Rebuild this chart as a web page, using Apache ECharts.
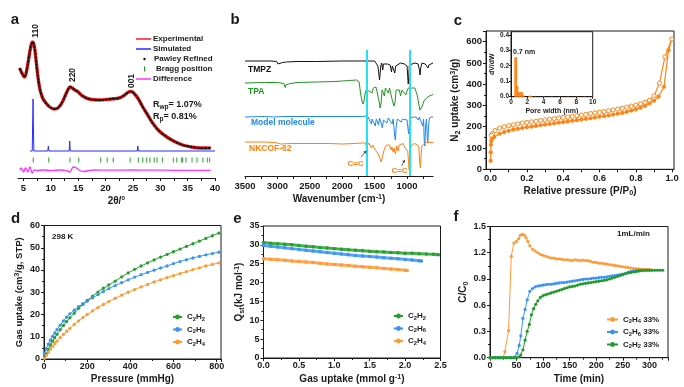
<!DOCTYPE html>
<html><head><meta charset="utf-8">
<script src="https://cdn.jsdelivr.net/npm/echarts@6/dist/echarts.min.js"></script>
<style>html,body{margin:0;padding:0;background:#fff}#c{width:684px;height:387px}</style>
</head><body><div id="c"></div>
<script>
// ---------- Panel a : PXRD ----------
const xrdTicks = [5,10,15,20,25,30,35,40];
const xrdTickMarks = [5,7.5,10,12.5,15,17.5,20,22.5,25,27.5,30,32.5,35,37.5,40];
const xrdExperimental = [[4.3,110],[4.7,105],[5.2,101],[5.6,108],[6.0,121],[6.4,133],[6.7,136],[7.0,131],[7.3,118],[7.6,103],[8.0,89],[8.5,80],[9.1,75],[9.8,71],[10.6,69],[11.3,70],[12.0,75],[12.6,82],[13.1,88],[13.5,91],[13.9,90],[14.4,88],[15.0,86],[15.8,82],[17.0,79],[18.8,78],[21.0,79],[22.5,80],[23.5,83],[24.2,86],[24.7,86.5],[25.3,84],[26.0,79],[26.8,71],[27.7,63],[28.6,55],[29.8,47],[31.2,41],[32.6,36.5],[34.1,33],[35.7,31],[37.4,30],[39.2,30]];
const xrdPawley = xrdExperimental;
const xrdSimulated = [[6.2,27],[6.6,27],[6.68,55],[6.75,79],[6.82,50],[6.9,27],[9.45,27],[9.55,32],[9.65,27],[13.35,27],[13.45,37],[13.55,27],[19.9,27],[20.0,28],[20.1,27],[25.8,27],[25.9,32],[26.0,27],[26.7,27],[26.8,29],[26.9,27],[29.2,27],[29.3,28],[29.4,27],[40,27]];
const braggPositions = [6.8,9.6,13.5,15.1,19.1,20.3,21.4,24.5,26.0,26.8,27.5,28.1,28.9,29.4,30.4,32.4,33.0,33.9,34.1,34.7,35.8,36.7,37.8,38.6,39.0];
const xrdDifference = [[4.3,8],[4.6,10],[5.0,6],[5.4,10],[5.8,6],[6.2,11],[6.6,5],[7.0,8],[7.5,7.5],[8.5,8],[10,7.5],[12,8],[13.0,7],[13.5,6],[14.1,11],[14.7,10],[15.3,7.5],[16.0,6.5],[17,7.5],[18,8],[20,7.8],[22,7.8],[25,8],[28,7.8],[31,7.8],[34,7.6],[37,7.7],[39.2,7.6]];

// ---------- Panel b : FTIR ----------
const ftirTicks = [1000,1500,2000,2500,3000,3500];
const ftirTickMarks = [750,1000,1250,1500,1750,2000,2250,2500,2750,3000,3250,3500];
const ftirMarkers = [1620, 960];
const ftirTMPZ = [[3500,115],[3100,115],[3010,114.5],[2990,112],[2975,114],[2920,113.5],[2860,114],[2700,114.5],[2400,114.5],[2000,115],[1700,115],[1500,115],[1470,114],[1450,110],[1435,102],[1425,96],[1415,98],[1405,110],[1390,113],[1375,106],[1365,112],[1340,113],[1300,112],[1260,111],[1240,104],[1228,110],[1205,106],[1190,103],[1175,110],[1150,112],[1100,113],[1040,112],[1000,110],[990,100],[982,92],[975,98],[965,111],[940,113],[880,113],[830,112],[810,106],[800,101],[790,108],[770,113],[720,112],[690,112],[675,108],[665,111],[640,113],[600,113]];
const ftirTPA = [[3500,93],[3200,93.5],[3000,93.5],[2900,92.5],[2880,88.5],[2870,91],[2830,92],[2700,93.5],[2400,94],[2100,94.5],[1900,95.5],[1780,96],[1740,94],[1720,84],[1700,76],[1680,72],[1665,75],[1650,82],[1630,86],[1610,87.5],[1590,85],[1570,87],[1540,83],[1520,88],[1500,87],[1480,89],[1465,85],[1450,80],[1430,74],[1415,68],[1400,73],[1385,86],[1370,88],[1350,80],[1335,88],[1310,87],[1290,83],[1270,88],[1250,86],[1225,75],[1200,70],[1185,74],[1170,86],[1150,88],[1120,86],[1100,80],[1080,86],[1050,87],[1020,81],[1000,85],[980,88],[950,86],[930,88],[900,87],[880,88],[860,86],[840,80],[820,72],[800,66],[780,64],[765,70],[740,75],[700,78],[660,80],[620,81],[600,81.5]];
const ftirModel = [[3500,59],[3200,59.5],[3060,59],[3045,57.5],[3030,59],[2900,59.5],[2500,59.5],[2000,59.5],[1700,59.5],[1630,60],[1615,56],[1600,59],[1570,58],[1550,52],[1540,57],[1520,58],[1490,50],[1475,57],[1460,55],[1440,51],[1425,58],[1400,53],[1380,48],[1365,56],[1340,58],[1310,53],[1290,58],[1260,57],[1230,52],[1215,57],[1190,40],[1180,36],[1170,48],[1150,57],[1120,58],[1090,54],[1070,57],[1040,58],[1000,56],[985,47],[975,42],[965,52],[945,58],[900,59],[860,59],[830,56],[810,59],[780,59],[760,50],[745,57],[735,35],[725,30],[715,50],[700,57],[690,40],[680,33],[670,48],[655,58],[620,59],[600,59]];
const ftirCOF = [[3500,34],[3200,34],[3060,33.5],[3000,33],[2950,32],[2930,33],[2800,32.5],[2500,32.5],[2200,32.5],[2000,32],[1800,32.5],[1700,33],[1640,33],[1625,28],[1610,30.5],[1590,33],[1570,31.5],[1550,28],[1530,31],[1510,30],[1490,26],[1470,27],[1445,22],[1420,18],[1400,14],[1385,16],[1370,22],[1350,27],[1320,31],[1290,33],[1270,31],[1250,26],[1235,29],[1215,24],[1200,28],[1180,22],[1160,30],[1140,25],[1120,31],[1100,30],[1060,32.5],[1040,29],[1010,31],[990,25],[975,12],[968,6],[960,14],[945,28],[920,31.5],[880,32.5],[850,32],[820,30],[805,14],[795,8],[785,20],[770,30],[740,32.5],[700,33.5],[650,33.5],[600,33.5]];

// ---------- Panel c : N2 isotherm ----------
const isoTicks = [0,0.2,0.4,0.6,0.8,1.0];
const isoTickMarks = [0,0.1,0.2,0.3,0.4,0.5,0.6,0.7,0.8,0.9,1.0];
const isoAdsorption = [[0.0005,40],[0.001,80],[0.002,115],[0.004,133],[0.008,143],[0.02,152],[0.05,167],[0.075,175],[0.1,181],[0.125,186],[0.15,190],[0.175,194],[0.2,198],[0.225,201],[0.25,204],[0.275,207],[0.3,210],[0.325,213],[0.35,216],[0.375,219],[0.4,222],[0.425,225],[0.45,228],[0.475,231],[0.5,234],[0.525,237],[0.55,240],[0.575,243],[0.6,247],[0.625,250],[0.65,253],[0.675,257],[0.7,261],[0.725,265],[0.75,270],[0.775,276],[0.8,282],[0.825,289],[0.85,298],[0.875,310],[0.9,322],[0.925,342],[0.955,388],[0.98,560],[0.998,612]];
const isoDesorption = [[0.998,612],[0.96,528],[0.93,405],[0.9,345],[0.875,325],[0.85,315],[0.825,308],[0.8,302],[0.775,297],[0.75,292],[0.725,287],[0.7,283],[0.675,279],[0.65,275],[0.625,271],[0.6,268],[0.575,265],[0.55,262],[0.525,258],[0.5,255],[0.475,252],[0.45,249],[0.425,246],[0.4,244],[0.375,241],[0.35,238],[0.325,235],[0.3,232],[0.275,229],[0.25,226],[0.225,223],[0.2,220],[0.175,217],[0.15,213],[0.125,209],[0.1,205],[0.075,200],[0.05,194],[0.025,182],[0.01,168],[0.005,160]];
const poreWidth = [0.5,0.65,0.8,0.95,1.1,1.25,1.4,1.55,2.2,2.35,2.5,3,4,5,6,7,8,9,10];
const poreDvdw = [0.255,0.255,0.07,0.03,0.03,0.03,0.028,0.01,0.005,0.007,0.005,0.002,0.002,0.002,0.002,0.002,0.002,0.002,0.002];

// ---------- Panel d : isotherms 298 K ----------
const uptakeP = [2,10,20,30,40,50,60,75,90,105,120,140,160,180,200,225,250,275,300,330,360,390,420,450,480,510,540,570,600,630,660,690,720,750,780,810];
const uptakeC2H2 = [0.5,2.3,4.4,6.3,8.0,9.6,11.1,13.2,15.1,16.9,18.5,20.6,22.8,24.6,26.3,28.3,30.1,31.8,33.3,35.0,36.9,38.7,40.3,41.8,43.2,44.5,45.8,47.0,48.2,49.4,50.6,51.8,53.0,54.2,55.4,56.6];
const uptakeC2H6 = [2.5,4.6,6.7,8.5,10.2,11.7,13.2,15.2,17.1,18.8,20.3,22.0,23.5,24.8,26.0,27.5,28.9,30.3,31.6,33.0,34.3,35.6,36.8,37.9,38.9,39.9,40.9,41.8,42.9,43.8,44.6,45.4,46.1,46.8,47.4,48.0];
const uptakeC2H4 = [0.3,1.6,3.0,4.4,5.7,6.9,8.0,9.6,11.1,12.5,13.8,15.5,17.1,18.6,20.0,21.6,23.1,24.5,25.8,27.3,28.7,30.0,31.2,32.4,33.5,34.6,35.6,36.6,37.5,38.4,39.3,40.2,41.0,41.8,42.5,43.2];

// ---------- Panel e : Qst ----------
const loadC2H2 = [0,0.1,0.2,0.3,0.4,0.5,0.6,0.7,0.8,0.9,1.0,1.1,1.2,1.3,1.4,1.5,1.6,1.7,1.8,1.9,2.0,2.1,2.2,2.3,2.4,2.47];
const qstC2H2 = [30.6,30.45,30.3,30.15,30.0,29.8,29.65,29.5,29.3,29.15,29.0,28.85,28.7,28.6,28.45,28.3,28.2,28.1,28.0,27.9,27.8,27.75,27.65,27.55,27.5,27.4];
const loadC2H6 = [0,0.1,0.2,0.3,0.4,0.5,0.6,0.7,0.8,0.9,1.0,1.1,1.2,1.3,1.4,1.5,1.6,1.7,1.8,1.9,2.0,2.1,2.2,2.23];
const qstC2H6 = [29.8,29.6,29.4,29.2,29.0,28.8,28.6,28.4,28.2,28.0,27.8,27.6,27.4,27.2,27.05,26.9,26.75,26.6,26.45,26.3,26.15,26.0,25.8,25.7];
const loadC2H4 = [0,0.1,0.2,0.3,0.4,0.5,0.6,0.7,0.8,0.9,1.0,1.1,1.2,1.3,1.4,1.5,1.6,1.7,1.8,1.9,2.0,2.03];
const qstC2H4 = [26.3,26.2,26.05,25.9,25.75,25.6,25.45,25.3,25.1,24.95,24.8,24.65,24.5,24.35,24.2,24.05,23.9,23.75,23.6,23.45,23.3,23.2];

// ---------- Panel f : breakthrough ----------
const btC2H4 = [[0,0],[5,0],[10,0],[15,0],[20,0],[25,0],[28,0.07],[35,0.31],[40,1.16],[45,1.31],[50,1.33],[54,1.36],[57,1.40],[61,1.41],[65,1.40],[68,1.37],[71,1.33],[75,1.28],[80,1.24],[85,1.22],[90,1.20],[95,1.18],[100,1.17],[105,1.16],[110,1.15],[115,1.14],[120,1.14],[125,1.13],[130,1.13],[135,1.125],[140,1.12],[145,1.12],[150,1.115],[155,1.11],[160,1.12],[165,1.115],[170,1.11],[175,1.115],[180,1.11],[185,1.11],[190,1.10],[195,1.09],[200,1.09],[205,1.08],[210,1.08],[215,1.075],[220,1.07],[225,1.065],[230,1.06],[235,1.055],[240,1.05],[245,1.045],[250,1.04],[255,1.035],[260,1.03],[265,1.025],[270,1.02],[275,1.02],[280,1.015],[285,1.01],[290,1.01],[295,1.01],[300,1.01],[305,1.0]];
const btC2H6 = [[0,0],[5,0],[10,0],[15,0],[20,0],[25,0],[30,0],[35,0],[40,0],[45,0],[48,0.01],[51,0.05],[55,0.14],[58,0.25],[62,0.45],[66,0.55],[70,0.66],[75,0.76],[80,0.79],[85,0.81],[90,0.82],[95,0.825],[100,0.83],[105,0.835],[110,0.84],[115,0.84],[120,0.845],[125,0.85],[130,0.855],[135,0.86],[140,0.86],[145,0.865],[150,0.87],[155,0.875],[160,0.88],[165,0.885],[170,0.89],[175,0.895],[180,0.90],[185,0.90],[190,0.905],[195,0.91],[200,0.91],[205,0.915],[210,0.92],[215,0.92],[220,0.925],[225,0.93],[230,0.935],[235,0.94],[240,0.945],[245,0.95],[250,0.955],[255,0.965],[260,0.975],[265,0.985],[270,0.99],[275,0.995],[280,1.0],[285,1.0],[290,1.0],[295,1.0],[300,1.0]];
const btC2H2 = [[0,0],[5,0],[10,0],[15,0],[20,0],[25,0],[30,0],[35,0],[40,0],[45,0],[50,0],[55,0.01],[58,0.03],[62,0.09],[66,0.2],[70,0.3],[74,0.38],[78,0.49],[82,0.56],[86,0.61],[90,0.65],[95,0.69],[100,0.71],[105,0.72],[110,0.73],[115,0.74],[120,0.75],[125,0.76],[130,0.77],[135,0.78],[140,0.79],[145,0.80],[150,0.81],[155,0.815],[160,0.82],[165,0.83],[170,0.84],[175,0.845],[180,0.85],[185,0.855],[190,0.86],[195,0.865],[200,0.87],[205,0.875],[210,0.88],[215,0.885],[220,0.89],[225,0.90],[230,0.91],[235,0.92],[240,0.93],[245,0.94],[250,0.95],[255,0.96],[260,0.97],[265,0.975],[270,0.98],[275,0.985],[280,0.99],[285,0.995],[290,1.0],[295,1.0],[300,1.0],[305,1.0],[310,1.0],[315,1.0],[320,1.0],[325,1.0]];

// ---------- styling ----------
const FONT = 'Liberation Sans';
const INK = '#1a1a1a';
const GREEN = '#25A02E', BLUE = '#3A93F5', ORANGE = '#FF9A35', ORANGE_C = '#FF8418';
function rich(sz){
  const s = Math.round(sz*0.72*10)/10, pad = Math.round(sz*0.5);
  return {
    s:{fontSize:s, lineHeight:s, padding:[pad,0,0,0], fontWeight:'bold', fontFamily:FONT, color:INK, fill:INK},
    p:{fontSize:s, lineHeight:s, padding:[0,0,pad,0], fontWeight:'bold', fontFamily:FONT, color:INK, fill:INK}
  };
}
function richC(sz,c){ const r = rich(sz); r.s.color=r.s.fill=c; r.p.color=r.p.fill=c; return r; }
function merge(a,b){
  const o = Object.assign({}, a);
  for (const k in b){
    const bv=b[k], av=a[k];
    if (bv && typeof bv==='object' && !Array.isArray(bv) && av && typeof av==='object' && !Array.isArray(av)) o[k]=merge(av,bv);
    else o[k]=bv;
  }
  return o;
}
const baseAxis = {
  type:'value',
  axisLine:{show:true,onZero:false,lineStyle:{color:INK,width:1}},
  axisTick:{show:true,inside:false,length:3,lineStyle:{color:INK,width:1}},
  minorTick:{show:true,splitNumber:2,length:2,lineStyle:{color:INK,width:1}},
  splitLine:{show:false}, minorSplitLine:{show:false},
  axisLabel:{color:INK,fontFamily:FONT,fontWeight:'bold',fontSize:9,margin:4},
  nameLocation:'middle',
  nameTextStyle:{color:INK,fontFamily:FONT,fontWeight:'bold',fontSize:10,lineHeight:13,rich:rich(10)}
};
const fx1 = v => v.toFixed(1);
const plain = v => String(v);
const boxGrid = {show:true, borderColor:INK, borderWidth:1, backgroundColor:'transparent'};

const xAxis = [
  merge(baseAxis,{gridIndex:0,min:4,max:40,minorTick:{show:false},axisLine:{lineStyle:{width:1.2}},axisLabel:{customValues:xrdTicks,formatter:plain,fontSize:9.5,margin:5},axisTick:{customValues:xrdTickMarks},name:'2θ/°',nameGap:17}),
  merge(baseAxis,{gridIndex:1,min:600,max:3500,inverse:true,minorTick:{show:false},axisLine:{lineStyle:{width:1.2}},axisLabel:{customValues:ftirTicks,formatter:plain,fontSize:9.5,margin:5},axisTick:{customValues:ftirTickMarks},name:'Wavenumber (cm{p|-1})',nameGap:17}),
  merge(baseAxis,{gridIndex:2,min:-0.025,max:1.01,minorTick:{show:false},axisLabel:{customValues:isoTicks,formatter:fx1,fontSize:9.5},axisTick:{customValues:isoTickMarks},name:'Relative pressure (P/P{s|0})',nameGap:15}),
  merge(baseAxis,{gridIndex:3,min:0,max:10,interval:2,minorTick:{show:false},axisTick:{length:2},axisLabel:{fontSize:6.5,margin:2},name:'Pore width (nm)',nameGap:8,nameTextStyle:{fontSize:7,lineHeight:9}}),
  merge(baseAxis,{gridIndex:4,min:0,max:820,interval:200,axisLabel:{showMaxLabel:false,formatter:plain,margin:3},name:'Pressure (mmHg)',nameGap:14}),
  merge(baseAxis,{gridIndex:5,min:0,max:2.5,interval:0.5,axisLabel:{formatter:fx1,margin:3},name:'Gas uptake (mmol g{p|-1})',nameGap:15}),
  merge(baseAxis,{gridIndex:6,min:0,max:335,interval:50,axisLabel:{showMaxLabel:false,formatter:plain,margin:3},name:'Time (min)',nameGap:15})
];
const yAxis = [
  merge(baseAxis,{gridIndex:0,min:0,max:150,show:false}),
  merge(baseAxis,{gridIndex:1,min:0,max:150,show:false}),
  merge(baseAxis,{gridIndex:2,min:0,max:650,interval:100,axisLabel:{showMaxLabel:false,fontSize:9.5},name:'N{s|2} uptake (cm{p|3}/g)',nameGap:22}),
  merge(baseAxis,{gridIndex:3,min:0,max:0.42,interval:0.1,minorTick:{show:false},axisTick:{length:2},axisLabel:{formatter:fx1,showMaxLabel:false,fontSize:6.5,margin:2},name:'dV/dW',nameGap:13,nameTextStyle:{fontSize:7,lineHeight:9}}),
  merge(baseAxis,{gridIndex:4,min:0,max:60,interval:10,name:'Gas uptake (cm{p|3}/g, STP)',nameGap:16,nameTextStyle:{fontSize:9.5,rich:rich(9.5)}}),
  merge(baseAxis,{gridIndex:5,min:0,max:35,interval:5,name:'Q{s|st}(kJ mol{p|-1})',nameGap:16}),
  merge(baseAxis,{gridIndex:6,min:0,max:1.5,interval:0.3,axisLabel:{formatter:fx1},name:'C/C{s|0}',nameGap:17})
];

function ln(name, xi, data, color, extra){
  return merge({type:'line', name, xAxisIndex:xi, yAxisIndex:xi, data, showSymbol:false, symbol:'none',
    lineStyle:{color, width:1}, itemStyle:{color}, emphasis:{disabled:true}, z:3}, extra||{});
}
const zipXY = (xs, ys) => xs.map((x,i)=>[x, ys[i]]);
const mk = (color, size) => ({showSymbol:true, symbol:'circle', symbolSize:size, itemStyle:{color}});

const series = [
  // a
  ln('Experimental',0,xrdExperimental,'#FF1A1A',{smooth:0.35,lineStyle:{width:3.4}}),
  ln('Pawley Refined',0,xrdPawley,'#111',{smooth:0.35,lineStyle:{width:1.9,type:[3,0.6]}}),
  ln('Simulated',0,xrdSimulated,'#2B2BFF',{lineStyle:{width:1}}),
  {type:'scatter', name:'Bragg position', xAxisIndex:0, yAxisIndex:0, data:braggPositions.map(v=>[v,18]), symbol:'rect', symbolSize:[1.2,5], itemStyle:{color:'#1E9E1E'}, silent:true},
  ln('Difference',0,xrdDifference,'#FF33FF',{smooth:0.4,lineStyle:{width:1.3}}),
  // b
  ln('TMPZ',1,ftirTMPZ,'#111'),
  ln('TPA',1,ftirTPA,'#1E961E'),
  ln('Model molecule',1,ftirModel,'#1E88F0'),
  ln('NKCOF-62',1,ftirCOF,'#FF7F0E',{markLine:{silent:true,symbol:'none',label:{show:false},lineStyle:{color:'#22E2F2',width:2,type:'solid'},
     data:ftirMarkers.map(v=>[{coord:[v,0]},{coord:[v,126]}])}}),
  // c
  ln('Adsorption',2,isoAdsorption,ORANGE_C,merge(mk(ORANGE_C,4.2),{lineStyle:{width:1.2}})),
  ln('Desorption',2,isoDesorption,ORANGE_C,{showSymbol:true,symbol:'circle',symbolSize:4.2,lineStyle:{width:1.2},itemStyle:{color:'#fff',borderColor:ORANGE_C,borderWidth:1}}),
  {type:'bar', name:'PSD', xAxisIndex:3, yAxisIndex:3, data:zipXY(poreWidth,poreDvdw), barWidth:1.6, itemStyle:{color:ORANGE_C}, silent:true},
  // d
  ln('C2H2',4,zipXY(uptakeP,uptakeC2H2),GREEN,mk(GREEN,3.3)),
  ln('C2H6',4,zipXY(uptakeP,uptakeC2H6),BLUE,mk(BLUE,3.3)),
  ln('C2H4',4,zipXY(uptakeP,uptakeC2H4),ORANGE,mk(ORANGE,3.3)),
  // e
  ln('C2H2',5,zipXY(loadC2H2,qstC2H2),GREEN,merge(mk(GREEN,3.5),{lineStyle:{width:3,opacity:0.85}})),
  ln('C2H6',5,zipXY(loadC2H6,qstC2H6),BLUE,merge(mk(BLUE,3.5),{lineStyle:{width:3,opacity:0.85}})),
  ln('C2H4',5,zipXY(loadC2H4,qstC2H4),ORANGE,merge(mk(ORANGE,3.5),{lineStyle:{width:3,opacity:0.85}})),
  // f
  ln('C2H4 33%',6,btC2H4,ORANGE,mk(ORANGE,3.2)),
  ln('C2H6 33%',6,btC2H6,BLUE,mk(BLUE,3.2)),
  ln('C2H2 33%',6,btC2H2,'#229A2A',mk('#229A2A',3.2))
];

function legendCfg(left, top, names, w){
  return {left, top, orient:'vertical', itemWidth:w, itemHeight:6, itemGap:2.5, selectedMode:false, padding:0,
    data:names, formatter:n=>n.replace(/([CH])(\d)/g,'$1{s|$2}'),
    textStyle:{color:INK,fontFamily:FONT,fontWeight:'bold',fontSize:8,lineHeight:10,rich:rich(8)}};
}

function txt(x,y,text,size,color,extra){
  color = color||INK;
  return merge({type:'text', x, y, silent:true, z:50, style:{text, fill:color, fontSize:size, fontWeight:'bold', fontFamily:FONT,
    align:'left', verticalAlign:'middle', rich:richC(size,color)}}, extra||{});
}
const ctr = {style:{align:'center'}};
const graphic = [
  // panel letters
  txt(15,20,'a',15,INK,ctr), txt(235,20,'b',15,INK,ctr), txt(458,20.5,'c',15,INK,ctr),
  txt(15.5,219,'d',15,INK,ctr), txt(237.5,219,'e',15,INK,ctr), txt(456,217,'f',15,INK,ctr),
  // panel a annotations
  txt(35.5,31,'110',8.5,INK,{rotation:Math.PI/2,style:{align:'center'}}),
  txt(72.5,75,'220',8.5,INK,{rotation:Math.PI/2,style:{align:'center'}}),
  txt(132,81,'001',8.5,INK,{rotation:Math.PI/2,style:{align:'center'}}),
  txt(153,105,'R{s|wp}= 1.07%',9), txt(153,117,'R{s|p}= 0.81%',9),
  // panel a legend
  {type:'line', silent:true, z:50, shape:{x1:136,y1:39,x2:151,y2:39}, style:{stroke:'#FF1A1A',lineWidth:1.5}},
  {type:'line', silent:true, z:50, shape:{x1:136,y1:49,x2:151,y2:49}, style:{stroke:'#2B2BFF',lineWidth:1.5}},
  {type:'circle', silent:true, z:50, shape:{cx:144.5,cy:59,r:1.2}, style:{fill:'#111'}},
  {type:'rect', silent:true, z:50, shape:{x:144,y:66.5,width:1.2,height:5}, style:{fill:'#1E9E1E'}},
  {type:'line', silent:true, z:50, shape:{x1:136,y1:79,x2:151,y2:79}, style:{stroke:'#FF33FF',lineWidth:1.5}},
  txt(153,39,'Experimental',8), txt(153,49,'Simulated',8), txt(154,59,'Pawley Refined',8),
  txt(156,69,'Bragg position',8), txt(153,79,'Difference',8),
  // panel b annotations
  txt(248,70,'TMPZ',8.5,'#111'), txt(248,91.7,'TPA',8.5,'#1E961E'),
  txt(251,122.7,'Model molecule',8.5,'#1E88F0'), txt(249,148.5,'NKCOF-62',8.5,'#FF7F0E'),
  txt(355.5,164,'C=C',8,'#FF7F0E',ctr), txt(399.5,171,'C=C',8,'#FF7F0E',ctr),
  {type:'line', silent:true, z:50, shape:{x1:361,y1:157,x2:365.5,y2:151.7}, style:{stroke:'#444',lineWidth:0.8}},
  {type:'polygon', silent:true, z:50, shape:{points:[[366.5,150.5],[365.7,153.76],[363.4,151.82]]}, style:{fill:'#444'}},
  {type:'line', silent:true, z:50, shape:{x1:401.5,y1:166,x2:404.5,y2:160.5}, style:{stroke:'#444',lineWidth:0.8}},
  {type:'polygon', silent:true, z:50, shape:{points:[[405,159.5],[404.9,162.85],[402.26,161.43]]}, style:{fill:'#444'}},
  // c, d, f annotations
  txt(513,52,'0.7 nm',7), txt(52,236.7,'298 K',8), txt(617,233.3,'1mL/min',8)
];

const option = {
  animation:false,
  textStyle:{fontFamily:FONT},
  grid:[
    {left:18, top:28, width:197, height:150},
    {left:245, top:26, width:188, height:150},
    merge(boxGrid,{left:486, top:31, width:188, height:138.3}),
    merge(boxGrid,{left:511, top:31.7, width:81.7, height:65, backgroundColor:'#fff'}),
    merge(boxGrid,{left:44, top:225.5, width:177, height:133.5}),
    merge(boxGrid,{left:263.5, top:226, width:177, height:132.3}),
    merge(boxGrid,{left:490, top:226.5, width:178, height:131.2})
  ],
  xAxis, yAxis, series,
  legend:[
    legendCfg(172,312,['C2H2','C2H6','C2H4'],9),
    legendCfg(393,311,['C2H2','C2H6','C2H4'],9),
    legendCfg(606,314.5,['C2H4 33%','C2H6 33%','C2H2 33%'],11)
  ],
  graphic
};
const chart = echarts.init(document.getElementById('c'), null, {renderer:'canvas'});
chart.setOption(option);
</script>
</body></html>
